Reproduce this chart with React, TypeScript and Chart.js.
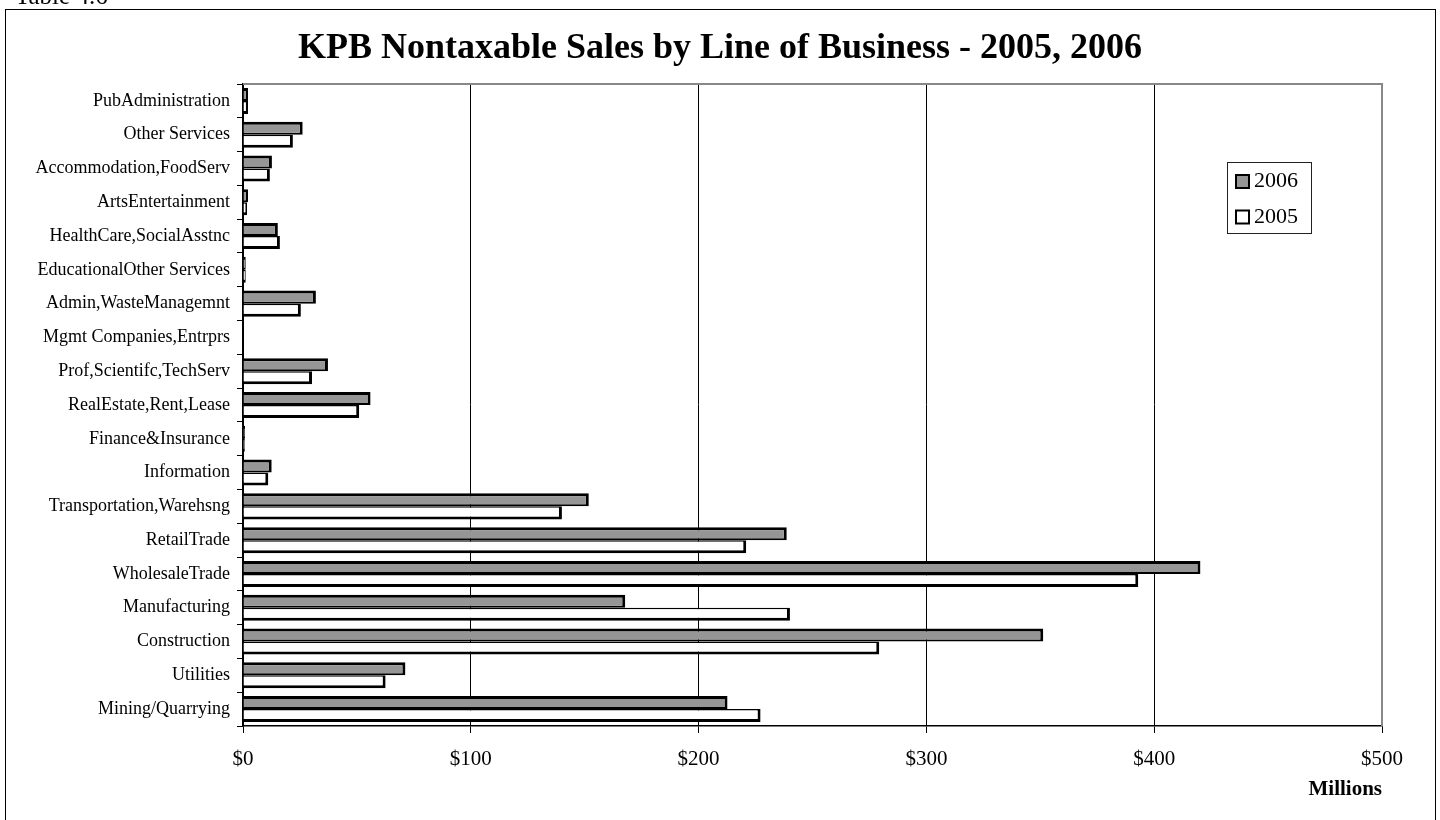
import React, { useEffect, useRef } from "react";
import { Chart, registerables } from "chart.js";

Chart.register(...registerables);

const categories = [
  "PubAdministration",
  "Other Services",
  "Accommodation,FoodServ",
  "ArtsEntertainment",
  "HealthCare,SocialAsstnc",
  "EducationalOther Services",
  "Admin,WasteManagemnt",
  "Mgmt Companies,Entrprs",
  "Prof,Scientifc,TechServ",
  "RealEstate,Rent,Lease",
  "Finance&Insurance",
  "Information",
  "Transportation,Warehsng",
  "RetailTrade",
  "WholesaleTrade",
  "Manufacturing",
  "Construction",
  "Utilities",
  "Mining/Quarrying",
];

const sales2006 = [2.2, 26.2, 12.7, 2.2, 15.3, 1.2, 32.0, 0, 37.3, 56.0, 0.9, 12.6, 151.8, 238.7, 420.3, 167.8, 351.3, 71.3, 212.7];
const sales2005 = [2.2, 21.9, 11.8, 1.8, 16.2, 1.2, 25.4, 0, 30.3, 51.0, 0.8, 11.1, 140.0, 220.9, 393.0, 240.1, 279.3, 62.6, 227.2];

const seriesLabels = ["2006", "2005"];
const xTickValues = [0, 100, 200, 300, 400, 500];
const titleText = "KPB Nontaxable Sales by Line of Business - 2005, 2006";
const axisTitle = "Millions";
const tableCaption = "Table 4.6";

const FONT = "'Liberation Serif', 'Times New Roman', serif";

export default function App() {
  const ref = useRef<HTMLCanvasElement>(null);

  useEffect(() => {
    if (!ref.current) return;

    const frame = {
      id: "frame",
      afterLayout(chart: any) {
        const tb = chart.titleBlock;
        if (tb) {
          tb.left = 0;
          tb.right = chart.width;
          tb.width = chart.width;
        }
      },
      beforeDraw(chart: any) {
        const ctx = chart.ctx;
        ctx.save();
        ctx.fillStyle = "#fff";
        ctx.fillRect(0, 0, chart.width, chart.height);
        ctx.strokeStyle = "#000";
        ctx.lineWidth = 1;
        ctx.strokeRect(5.5, 9.5, 1430, 830);
        ctx.fillStyle = "#000";
        ctx.font = `25px ${FONT}`;
        ctx.textBaseline = "alphabetic";
        ctx.textAlign = "left";
        ctx.fillText(tableCaption, 15, 4);
        ctx.restore();
      },
    };

    const plotBorder = {
      id: "plotBorder",
      afterDraw(chart: any) {
        const { ctx, chartArea } = chart;
        ctx.save();
        ctx.strokeStyle = "#888";
        ctx.lineWidth = 2;
        ctx.beginPath();
        ctx.moveTo(chartArea.left, chartArea.top);
        ctx.lineTo(chartArea.right, chartArea.top);
        ctx.lineTo(chartArea.right, chartArea.bottom);
        ctx.stroke();
        ctx.restore();
      },
    };

    const legendBox = {
      id: "legendBox",
      afterDraw(chart: any) {
        const { ctx, chartArea } = chart;
        const x = chartArea.right - 155;
        const y = chartArea.top + 78;
        const w = 84;
        const h = 71;
        ctx.save();
        ctx.fillStyle = "#fff";
        ctx.fillRect(x, y, w, h);
        ctx.strokeStyle = "#222";
        ctx.lineWidth = 1;
        ctx.strokeRect(x + 0.5, y + 0.5, w, h);
        chart.data.datasets.forEach((ds: any, i: number) => {
          const cy = y + 19 + i * 35.5;
          ctx.fillStyle = ds.backgroundColor;
          ctx.fillRect(x + 8, cy - 7, 15, 15);
          ctx.strokeStyle = "#000";
          ctx.lineWidth = 2;
          ctx.strokeRect(x + 9, cy - 6, 13, 13);
          ctx.fillStyle = "#000";
          ctx.font = `22px ${FONT}`;
          ctx.textBaseline = "middle";
          ctx.textAlign = "left";
          ctx.fillText(ds.label, x + 27, cy + 0.5);
        });
        ctx.restore();
      },
    };

    const chart = new Chart(ref.current, {
      type: "bar",
      data: {
        labels: categories,
        datasets: [
          {
            label: seriesLabels[0],
            data: sales2006,
            backgroundColor: "#969696",
            borderColor: "#000",
            borderWidth: { top: 3, right: 3, bottom: 2, left: 2 },
            borderSkipped: "start",
          },
          {
            label: seriesLabels[1],
            data: sales2005,
            backgroundColor: "#ffffff",
            borderColor: "#000",
            borderWidth: { top: 1.5, right: 3, bottom: 3, left: 2 },
            borderSkipped: "start",
          },
        ],
      },
      options: {
        indexAxis: "y",
        responsive: false,
        maintainAspectRatio: false,
        animation: false,
        events: [],
        layout: { padding: { left: 0, right: 58, top: 0, bottom: 0 } },
        datasets: { bar: { categoryPercentage: 0.77, barPercentage: 1 } },
        plugins: {
          legend: { display: false },
          tooltip: { enabled: false },
          title: {
            display: true,
            text: titleText,
            color: "#000",
            font: { family: FONT, size: 36, weight: "bold" },
            padding: { top: 27.4, bottom: 13.4 },
          },
        },
        scales: {
          x: {
            type: "linear",
            position: "bottom",
            min: 0,
            max: 500,
            afterBuildTicks: (s: any) => {
              s.ticks = xTickValues.map((v) => ({ value: v }));
            },
            afterFit: (s: any) => {
              s.height = 94;
            },
            ticks: {
              callback: (v: any) => "$" + v,
              color: "#000",
              font: { family: FONT, size: 21 },
              padding: 14,
              maxRotation: 0,
            },
            grid: { color: "#000", lineWidth: 1, drawTicks: true, tickLength: 7 },
            border: { color: "#000", width: 1.5 },
            title: {
              display: true,
              text: axisTitle,
              align: "end",
              color: "#000",
              font: { family: FONT, size: 21, weight: "bold" },
              padding: { top: 0, bottom: 17.4 },
            },
          },
          y: {
            type: "category",
            afterFit: (s: any) => {
              s.width = 243;
            },
            ticks: {
              color: "#000",
              font: { family: FONT, size: 18 },
              padding: 7,
              autoSkip: false,
            },
            grid: {
              drawOnChartArea: false,
              drawTicks: true,
              tickLength: 6,
              color: "#000",
              offset: true,
            },
            border: { color: "#000", width: 1.5 },
          },
        },
      },
      plugins: [frame, plotBorder, legendBox],
    } as any);

    return () => chart.destroy();
  }, []);

  return (
    <div style={{ position: "absolute", left: 0, top: 0, width: 1440, height: 820, background: "#fff" }}>
      <canvas ref={ref} width={1440} height={820} style={{ display: "block", width: 1440, height: 820 }} />
    </div>
  );
}
